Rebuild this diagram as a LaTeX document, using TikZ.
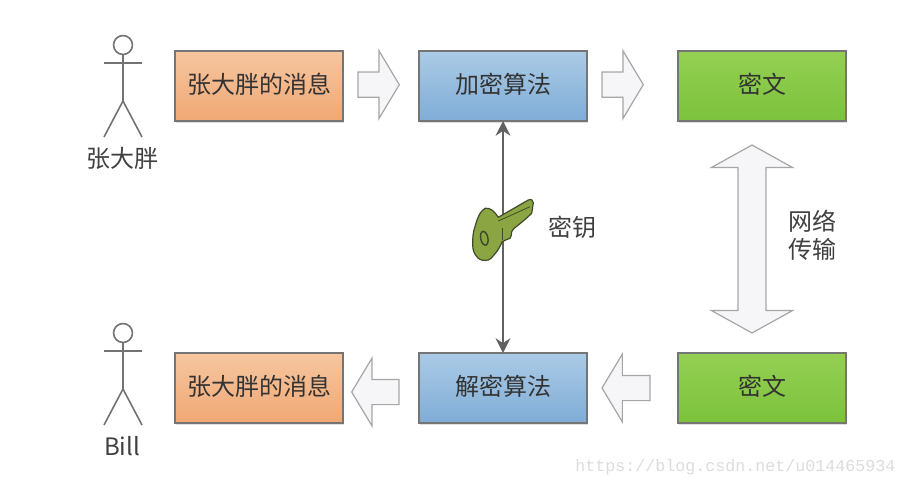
\documentclass[tikz,border=0pt]{standalone}
\usepackage{fontspec}
\setmainfont{Noto Sans CJK SC}
\newfontfamily\urlfont{Liberation Mono}
\usetikzlibrary{shapes.arrows,arrows.meta,positioning,shadows}
\definecolor{rimgray}{HTML}{757575}
\definecolor{inkgray}{HTML}{404040}
\definecolor{orangetop}{HTML}{F6C6A0}
\definecolor{orangebot}{HTML}{F0A874}
\definecolor{bluetop}{HTML}{ABCBE6}
\definecolor{bluebot}{HTML}{7FACD6}
\definecolor{greentop}{HTML}{94D053}
\definecolor{greenbot}{HTML}{7CC23B}
\definecolor{keygreen}{HTML}{8CA543}
\definecolor{keyrim}{HTML}{3F4A2A}
\definecolor{arrowfill}{HTML}{F6F6F8}
\definecolor{arrowrim}{HTML}{A6A6A6}
\definecolor{urlgray}{HTML}{DCDCDC}
\tikzset{
  box/.style    = {rectangle, draw=rimgray, line width=.8pt, outer sep=0pt,
                   minimum width=126pt, minimum height=52.5pt, inner sep=0pt,
                   text=black!80, text height=14pt, text depth=2.7pt,
                   font=\fontsize{18}{21}\selectfont,
                   drop shadow={shadow xshift=1pt, shadow yshift=-1.2pt, opacity=.25}},
  msgbox/.style    = {box, top color=orangetop, bottom color=orangebot},
  algobox/.style   = {box, top color=bluetop, bottom color=bluebot},
  cipherbox/.style = {box, top color=greentop, bottom color=greenbot},
  fatarrow/.style  = {single arrow, draw=arrowrim, fill=arrowfill, line width=.9pt,
                      outer sep=0pt, inner sep=9pt, minimum height=31pt,
                      single arrow head extend=16pt, single arrow tip angle=118},
  fatboth/.style   = {double arrow, draw=arrowrim, fill=arrowfill, line width=.9pt,
                      outer sep=0pt, inner sep=10pt, minimum height=141pt,
                      double arrow head extend=20pt, double arrow tip angle=122,
                      shape border rotate=90},
  lbl/.style    = {text=inkgray, align=center, inner sep=0pt,
                   font=\fontsize{18}{21}\selectfont},
  link/.style   = {{Stealth[length=11pt,width=11pt]}-{Stealth[length=11pt,width=11pt]},
                   line width=1.7pt, draw=black!62},
  person/.pic   = {
    \draw[draw=black!55, line width=1.2pt] (0,0) circle (7.1pt);
    \draw[draw=black!55, line width=1.2pt] (0,-7.1pt) -- (0,-42pt)
      (-14.25pt,-13.5pt) -- (14.25pt,-13.5pt)
      (-14.25pt,-69pt) -- (0,-42pt) -- (14.25pt,-69pt);
  },
}
\begin{document}
\begin{tikzpicture}

\useasboundingbox (0,0) rectangle (679.5pt,-365.25pt);

\node[msgbox] (msgtop) at (194.25pt,-64.5pt) {张大胖的消息};
\node[algobox, right=57pt of msgtop] (encrypt) {加密算法};
\node[cipherbox, right=68.25pt of encrypt] (ciphertop) {密文};
\node[algobox, below=174pt of encrypt] (decrypt) {解密算法};
\node[msgbox, left=57pt of decrypt] (msgbot) {张大胖的消息};
\node[cipherbox, right=68.25pt of decrypt] (cipherbot) {密文};

% block arrows
\node[fatarrow, right=11.25pt of msgtop, yshift=1pt] (sendA) {};
\node[fatarrow, right=11.25pt of encrypt, yshift=1pt] (sendB) {};
\node[fatarrow, shape border rotate=180, minimum height=35.5pt, left=15pt of decrypt, yshift=-3pt] (recvB) {};
\node[fatarrow, shape border rotate=180, minimum height=36pt, left=21pt of cipherbot] (recvA) {};
\node[fatboth, below=18pt of ciphertop, xshift=-7.5pt] (transfer) {};

\pic at (92.25pt,-33.75pt) {person};
\pic at (92.25pt,-249.75pt) {person};
\node[lbl] (nameA) at (91.5pt,-118.5pt) {张大胖};
\node[lbl] (nameB) at (91.5pt,-334.5pt) {Bill};
\node[lbl] (keytext) at (429pt,-170.25pt) {密钥};
\node[lbl] (nettext) at (609pt,-176.25pt) {网络\\传输};

\draw[link] (encrypt) -- (decrypt);

% the key
\begin{scope}[x=.75pt, y=-.75pt]
\draw[draw=keyrim, fill=keygreen, line width=.9pt, line join=round]
  (498.3,217.3) -- (528.3,200) .. controls (531,198.8) and (533.5,200) .. (533.3,202.7)
  -- (531.7,213.3) .. controls (527,218) and (522,222) .. (518.3,225)
  .. controls (515,228) and (512,229) .. (511.7,231.7)
  .. controls (511.5,235) and (511,237) .. (510,238.3)
  .. controls (507,240) and (504,240) .. (502.3,241.7)
  .. controls (500,246) and (499,249) .. (496.7,251.7)
  .. controls (493,256) and (491,259) .. (488.3,260)
  .. controls (484,261) and (480,260) .. (478.3,258.3)
  .. controls (474,254) and (472.7,250) .. (472.7,245)
  .. controls (472.5,238) and (473,232) .. (475,226.7)
  .. controls (477,219) and (480,211) .. (485,208.3)
  .. controls (490,207) and (495,212) .. (498.3,217.3) -- cycle;
\draw[draw=keyrim, line width=1.1pt] (484.3,238.3) ellipse [x radius=3.6, y radius=7, rotate=12];
\draw[draw=keyrim, line width=.6pt] (498.3,221) -- (530,206.7);
\draw[draw=keyrim, line width=.8pt] (502.7,228) -- (502.7,240);
\end{scope}

\node[text=urlgray, inner sep=0pt, font=\urlfont\fontsize{12.5}{15}\selectfont] (blogurl) at (551.5pt,-350.25pt) {https://blog.csdn.net/u014465934};

\end{tikzpicture}
\end{document}
